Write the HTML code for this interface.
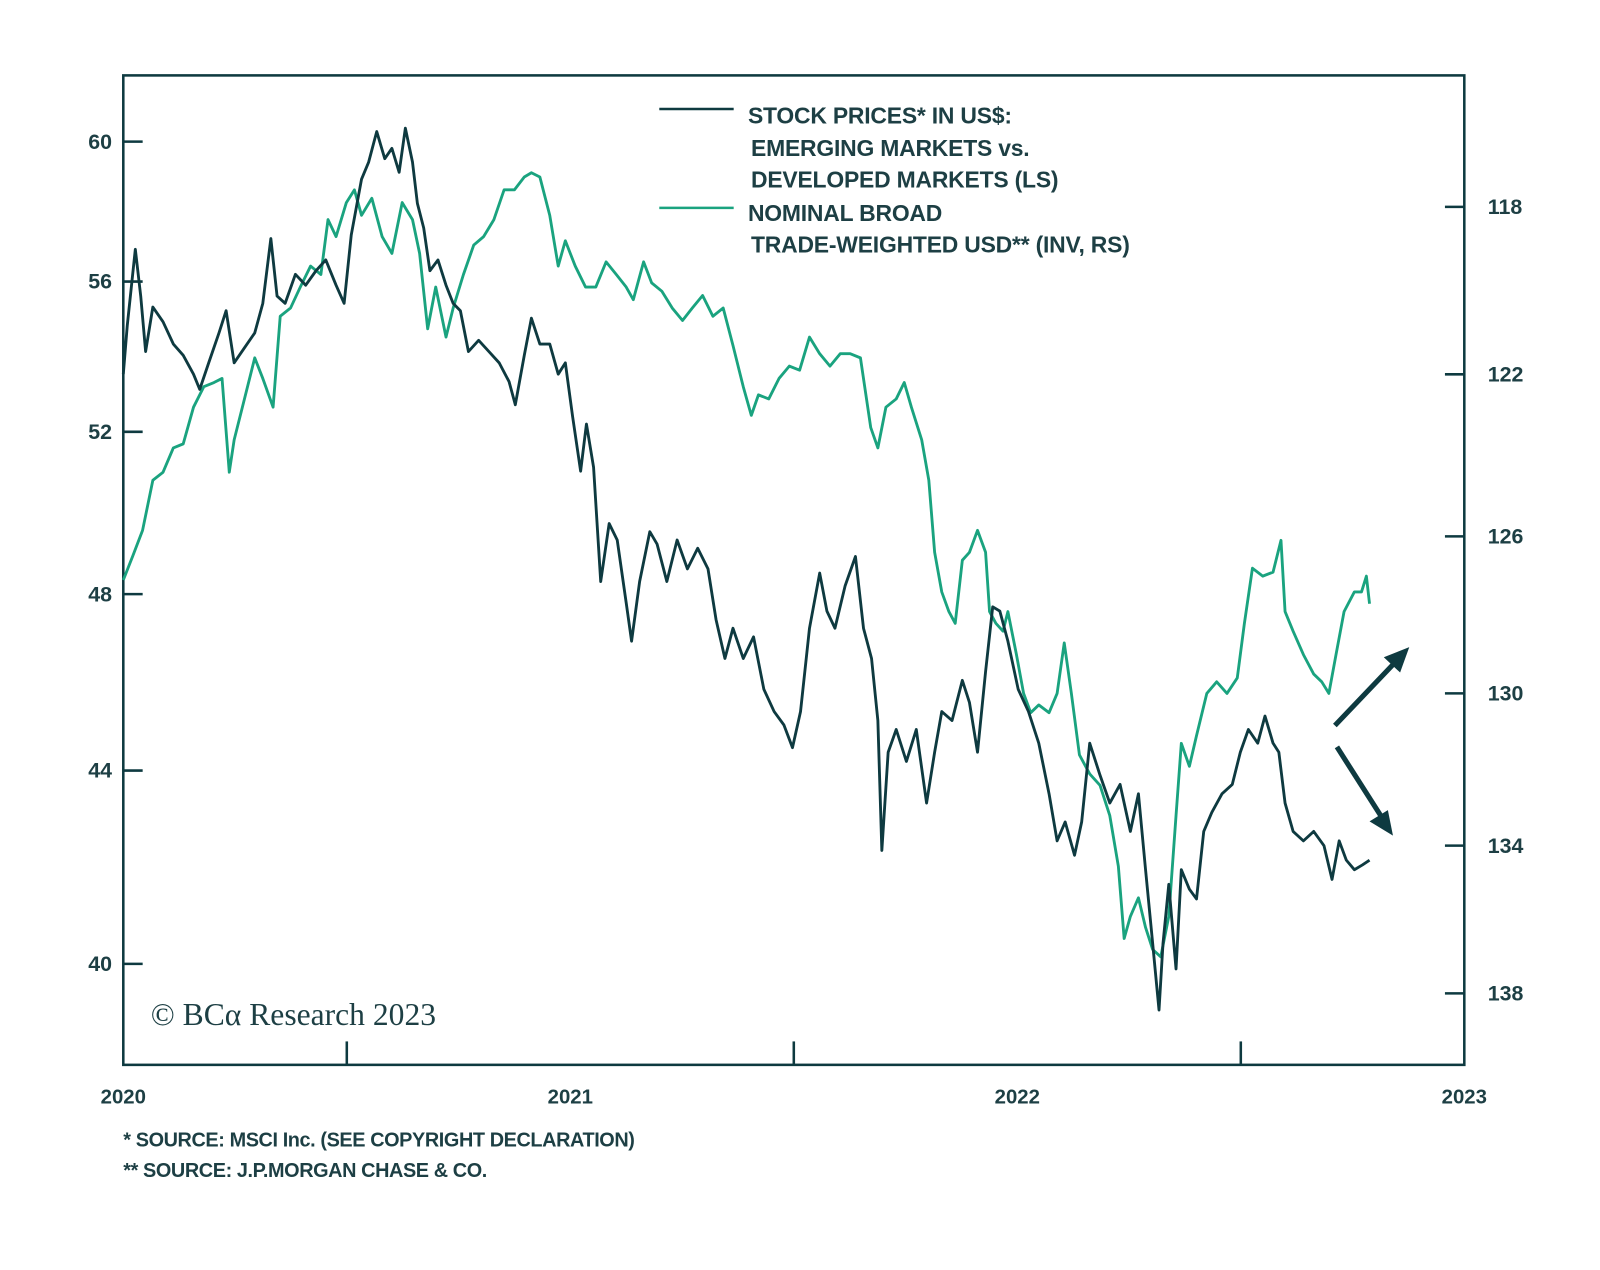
<!DOCTYPE html>
<html><head><meta charset="utf-8"><style>
body{margin:0;background:#fff;}
svg text{font-family:"Liberation Sans",sans-serif;}
svg text.serif{font-family:"Liberation Serif",serif;}
</style></head><body>
<svg id="chart" width="1600" height="1265" viewBox="0 0 1600 1265">
<g transform="scale(1.019)">
<rect x="121" y="74" width="1316" height="971" fill="none" stroke="#0e3a40" stroke-width="2.5"/>
<g id="axes"></g>
<g id="series"></g>
<g fill="#1d3f44" font-weight="bold" font-size="22.5" letter-spacing="-0.2">
<line x1="647" y1="107" x2="720" y2="107" stroke="#0e3a40" stroke-width="2.5"/>
<text x="734" y="121">STOCK PRICES* IN US$:</text>
<text x="737" y="153">EMERGING MARKETS vs.</text>
<text x="737" y="184">DEVELOPED MARKETS (LS)</text>
<line x1="647" y1="204" x2="720" y2="204" stroke="#1aa37f" stroke-width="2.5"/>
<text x="734" y="217">NOMINAL BROAD</text>
<text x="737" y="248">TRADE-WEIGHTED USD** (INV, RS)</text>
</g>
<text class="serif" x="148" y="1006" font-size="31" fill="#1d3f44">© BCα Research 2023</text>
<g stroke="#0e3a40" stroke-width="5" fill="#0e3a40">
<line x1="1310" y1="712" x2="1370" y2="649"/>
<polygon points="1383,635 1358,645 1374,660" stroke="none"/>
<line x1="1312" y1="733" x2="1356" y2="802"/>
<polygon points="1367,820 1344,806 1362,795" stroke="none"/>
</g>
<g font-size="19.5" fill="#1d3f44" font-weight="bold" letter-spacing="-0.4">
<text x="121" y="1125">*  SOURCE: MSCI Inc. (SEE COPYRIGHT DECLARATION)</text>
<text x="121" y="1155">** SOURCE: J.P.MORGAN CHASE &amp; CO.</text>
</g>
</g>
</svg>
<script>
const leftTicks=[60,56,52,48,44,40];
const rightTicks=[118,122,126,130,134,138];
const xTicks=[2020,2021,2022,2023];
const emDates=[2020.000,2020.009,2020.027,2020.039,2020.050,2020.066,2020.089,2020.112,2020.134,2020.157,2020.171,2020.191,2020.214,2020.230,2020.248,2020.271,2020.294,2020.312,2020.330,2020.344,2020.362,2020.385,2020.408,2020.431,2020.453,2020.476,2020.494,2020.510,2020.533,2020.549,2020.567,2020.585,2020.601,2020.617,2020.631,2020.647,2020.658,2020.672,2020.686,2020.704,2020.722,2020.738,2020.754,2020.772,2020.795,2020.818,2020.841,2020.863,2020.877,2020.897,2020.913,2020.932,2020.954,2020.973,2020.989,2021.005,2021.023,2021.036,2021.052,2021.068,2021.087,2021.105,2021.125,2021.137,2021.155,2021.178,2021.194,2021.216,2021.239,2021.262,2021.285,2021.308,2021.326,2021.346,2021.364,2021.387,2021.410,2021.433,2021.456,2021.478,2021.497,2021.515,2021.535,2021.558,2021.574,2021.592,2021.615,2021.638,2021.656,2021.674,2021.688,2021.697,2021.711,2021.729,2021.752,2021.774,2021.797,2021.815,2021.831,2021.854,2021.877,2021.893,2021.911,2021.929,2021.945,2021.961,2021.979,2022.002,2022.025,2022.048,2022.071,2022.089,2022.107,2022.128,2022.144,2022.162,2022.185,2022.207,2022.230,2022.253,2022.271,2022.287,2022.303,2022.317,2022.326,2022.339,2022.355,2022.367,2022.385,2022.401,2022.417,2022.435,2022.458,2022.481,2022.499,2022.517,2022.538,2022.554,2022.572,2022.585,2022.599,2022.617,2022.640,2022.663,2022.686,2022.704,2022.720,2022.736,2022.754,2022.772,2022.788];
const emValues=[53.5,54.8,56.9,55.6,54.1,55.3,54.9,54.3,54.0,53.5,53.1,53.8,54.6,55.2,53.8,54.2,54.6,55.4,57.2,55.6,55.4,56.2,55.9,56.3,56.6,55.9,55.4,57.3,58.9,59.4,60.3,59.5,59.8,59.1,60.4,59.4,58.2,57.5,56.3,56.6,55.9,55.4,55.2,54.1,54.4,54.1,53.8,53.3,52.7,54.0,55.0,54.3,54.3,53.5,53.8,52.4,51.0,52.2,51.1,48.3,49.7,49.3,47.8,46.9,48.3,49.5,49.2,48.3,49.3,48.6,49.1,48.6,47.4,46.5,47.2,46.5,47.0,45.8,45.3,45.0,44.5,45.3,47.2,48.5,47.6,47.2,48.2,48.9,47.2,46.5,45.1,42.3,44.4,44.9,44.2,44.9,43.3,44.4,45.3,45.1,46.0,45.5,44.4,46.2,47.7,47.6,46.9,45.8,45.3,44.6,43.5,42.5,42.9,42.2,42.9,44.6,43.9,43.3,43.7,42.7,43.5,41.9,40.4,39.1,40.4,41.6,39.9,41.9,41.5,41.3,42.7,43.1,43.5,43.7,44.4,44.9,44.6,45.2,44.6,44.4,43.3,42.7,42.5,42.7,42.4,41.7,42.5,42.1,41.9,42.0,42.1];
const usdDates=[2020.000,2020.021,2020.043,2020.066,2020.089,2020.112,2020.134,2020.157,2020.180,2020.203,2020.221,2020.237,2020.248,2020.271,2020.294,2020.312,2020.335,2020.351,2020.374,2020.396,2020.419,2020.442,2020.458,2020.476,2020.499,2020.517,2020.533,2020.556,2020.579,2020.601,2020.624,2020.647,2020.663,2020.681,2020.699,2020.722,2020.738,2020.761,2020.784,2020.806,2020.829,2020.852,2020.875,2020.897,2020.913,2020.932,2020.954,2020.973,2020.989,2021.011,2021.034,2021.057,2021.080,2021.103,2021.125,2021.141,2021.164,2021.182,2021.205,2021.228,2021.251,2021.273,2021.296,2021.319,2021.342,2021.364,2021.387,2021.405,2021.421,2021.444,2021.467,2021.490,2021.513,2021.535,2021.558,2021.581,2021.604,2021.626,2021.649,2021.672,2021.688,2021.706,2021.729,2021.747,2021.763,2021.786,2021.802,2021.815,2021.831,2021.847,2021.861,2021.877,2021.893,2021.911,2021.929,2021.938,2021.952,2021.968,2021.979,2021.998,2022.014,2022.030,2022.048,2022.071,2022.089,2022.105,2022.121,2022.139,2022.162,2022.185,2022.207,2022.226,2022.239,2022.253,2022.271,2022.287,2022.303,2022.321,2022.339,2022.355,2022.367,2022.385,2022.401,2022.424,2022.446,2022.469,2022.492,2022.508,2022.526,2022.549,2022.572,2022.590,2022.599,2022.617,2022.640,2022.663,2022.681,2022.697,2022.713,2022.731,2022.754,2022.770,2022.781,2022.788];
const usdValues=[127.1,126.5,125.85,124.6,124.4,123.8,123.7,122.8,122.3,122.2,122.1,124.4,123.6,122.6,121.6,122.1,122.8,120.6,120.4,119.9,119.4,119.6,118.3,118.7,117.9,117.6,118.2,117.8,118.7,119.1,117.9,118.3,119.1,120.9,119.9,121.1,120.4,119.6,118.9,118.7,118.3,117.6,117.6,117.3,117.2,117.3,118.2,119.4,118.8,119.4,119.9,119.9,119.3,119.6,119.9,120.2,119.3,119.8,120.0,120.4,120.7,120.4,120.1,120.6,120.4,121.3,122.3,123.0,122.5,122.6,122.1,121.8,121.9,121.1,121.5,121.8,121.5,121.5,121.6,123.3,123.8,122.8,122.6,122.2,122.8,123.6,124.6,126.4,127.4,127.9,128.2,126.6,126.4,125.85,126.4,127.9,128.2,128.4,127.9,129.0,130.0,130.5,130.3,130.5,130.0,128.7,130.0,131.6,132.1,132.4,133.2,134.55,136.5,135.9,135.4,136.2,136.8,137.0,135.9,133.2,131.3,131.9,131.1,130.0,129.7,130.0,129.6,128.2,126.8,127.0,126.9,126.1,127.9,128.4,129.0,129.5,129.7,130.0,129.0,127.9,127.4,127.4,127.0,127.7];

const NS='http://www.w3.org/2000/svg';
const X0=121,X1=1437;
const xScale=t=>X0+(t-2020)/3*(X1-X0);
const yLeft=v=>139+1990*Math.log(60/v);
const yRight=v=>203+4930*Math.log(v/118);
function mk(tag,attrs,parent){const e=document.createElementNS(NS,tag);for(const k in attrs)e.setAttribute(k,attrs[k]);parent.appendChild(e);return e;}
const axes=document.getElementById('axes');
const C='#0e3a40';
leftTicks.forEach(v=>{const y=yLeft(v);
 const l=mk('line',{x1:121,x2:140,y1:y,y2:y,stroke:C,'stroke-width':2.5},axes);
 
 
 const t=mk('text',{x:110,y:y+7,'text-anchor':'end','font-size':21,'font-weight':'bold',fill:'#1d3f44'},axes);t.textContent=v;
 
 });
rightTicks.forEach(v=>{const y=yRight(v);
 const l=mk('line',{x1:1418,x2:1437,y1:y,y2:y,stroke:C,'stroke-width':2.5},axes);
 
 
 const t=mk('text',{x:1460,y:y+7,'font-size':21,'font-weight':'bold',fill:'#1d3f44'},axes);t.textContent=v;
 
 });
xTicks.forEach((yr,i)=>{const x=xScale(yr);
 const t=mk('text',{x:x,y:1083,'text-anchor':'middle','font-size':20,'font-weight':'bold',fill:'#1d3f44'},axes);t.textContent=yr;
 
 
 if(i<3){const m=xScale(yr+0.5);
  const l=mk('line',{x1:m,x2:m,y1:1022,y2:1045,stroke:C,'stroke-width':2.5},axes);
  
  }});
const ser=document.getElementById('series');
const pUsd=usdDates.map((d,i)=>xScale(d).toFixed(1)+','+yRight(usdValues[i]).toFixed(1)).join(' ');
const g=mk('polyline',{points:pUsd,fill:'none',stroke:'#1aa37f','stroke-width':2.8,'stroke-linejoin':'round'},ser);


const pEm=emDates.map((d,i)=>xScale(d).toFixed(1)+','+yLeft(emValues[i]).toFixed(1)).join(' ');
const e=mk('polyline',{points:pEm,fill:'none',stroke:C,'stroke-width':2.8,'stroke-linejoin':'round'},ser);


</script>
</body></html>
